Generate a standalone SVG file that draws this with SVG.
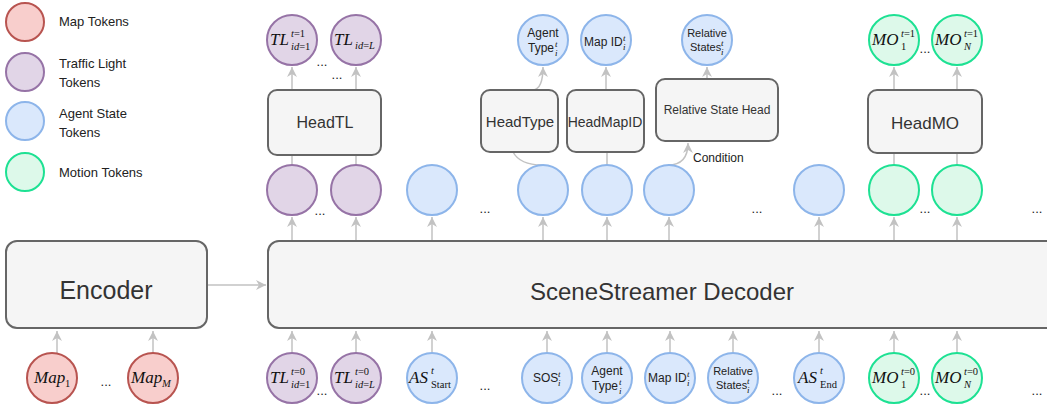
<svg xmlns="http://www.w3.org/2000/svg" width="1047" height="410" viewBox="0 0 1047 410">
<defs>
<marker id="arr" viewBox="0 0 10 10" refX="10" refY="5" markerWidth="10" markerHeight="10" markerUnits="userSpaceOnUse" orient="auto">
<path d="M0,0 L10,5 L0,10 L3,5 Z" fill="#c2c2c2"/>
</marker>
<style>
.map{fill:#f8cecc;stroke:#b85450;stroke-width:2}
.tl{fill:#e1d5e7;stroke:#9673a6;stroke-width:2}
.as{fill:#dae8fc;stroke:#8db5ea;stroke-width:2}
.mo{fill:#ddf9ea;stroke:#1de193;stroke-width:2}
.box{fill:#f5f5f5;stroke:#666;stroke-width:2}
.c{stroke:#c2c2c2;stroke-width:1.5;fill:none}
.ca{stroke:#c2c2c2;stroke-width:1.5;fill:none;marker-end:url(#arr)}
.sans{font-family:"Liberation Sans",Arial,sans-serif;fill:#222}
.lg{font-size:13px}
.bt{font-family:"Liberation Sans",Arial,sans-serif;fill:#333;text-anchor:middle}
.dots{font-family:"Liberation Sans",Arial,sans-serif;font-size:13px;fill:#222;text-anchor:middle}
.m{font-family:"Liberation Serif","Times New Roman",serif;font-style:italic;font-size:17px;fill:#111}
.s{font-family:"Liberation Serif","Times New Roman",serif;font-size:10.5px;fill:#111}
.i{font-style:italic}
.st{font-family:"Liberation Serif","Times New Roman",serif;font-style:italic;font-size:9px;fill:#111}
.ct{font-family:"Liberation Sans",Arial,sans-serif;font-size:12px;fill:#222}
.ct2{font-family:"Liberation Sans",Arial,sans-serif;font-size:11px;fill:#222}
</style>
</defs>
<rect width="1047" height="410" fill="#fff"/>

<g id="legend">
<circle class="map" cx="25" cy="22" r="19"/>
<text class="sans lg" x="59" y="26">Map Tokens</text>
<circle class="tl" cx="25" cy="72" r="19"/>
<text class="sans lg" x="59" y="68">Traffic Light</text>
<text class="sans lg" x="59" y="87">Tokens</text>
<circle class="as" cx="25" cy="121" r="19"/>
<text class="sans lg" x="59" y="118">Agent State</text>
<text class="sans lg" x="59" y="137">Tokens</text>
<circle class="mo" cx="25" cy="172" r="19"/>
<text class="sans lg" x="59" y="177">Motion Tokens</text>
</g>

<g id="connectors">
<line class="ca" x1="207" y1="285" x2="266" y2="285"/>
<line class="ca" x1="57" y1="353" x2="57" y2="331"/>
<line class="ca" x1="153" y1="353" x2="153" y2="331"/>
<line class="ca" x1="292" y1="353" x2="292" y2="331"/>
<line class="ca" x1="356" y1="353" x2="356" y2="331"/>
<line class="ca" x1="432" y1="353" x2="432" y2="331"/>
<line class="ca" x1="547" y1="353" x2="547" y2="331"/>
<line class="ca" x1="607" y1="353" x2="607" y2="331"/>
<line class="ca" x1="670" y1="353" x2="670" y2="331"/>
<line class="ca" x1="733" y1="353" x2="733" y2="331"/>
<line class="ca" x1="819" y1="353" x2="819" y2="331"/>
<line class="ca" x1="894" y1="353" x2="894" y2="331"/>
<line class="ca" x1="957" y1="353" x2="957" y2="331"/>
<line class="ca" x1="292" y1="241" x2="292" y2="217"/>
<line class="ca" x1="356" y1="241" x2="356" y2="217"/>
<line class="ca" x1="432" y1="241" x2="432" y2="217"/>
<line class="ca" x1="543" y1="241" x2="543" y2="217"/>
<line class="ca" x1="607" y1="241" x2="607" y2="217"/>
<line class="ca" x1="669" y1="241" x2="669" y2="217"/>
<line class="ca" x1="819" y1="241" x2="819" y2="217"/>
<line class="ca" x1="894" y1="241" x2="894" y2="217"/>
<line class="ca" x1="957" y1="241" x2="957" y2="217"/>
<line class="c" x1="292" y1="165" x2="292" y2="155"/>
<line class="c" x1="356" y1="165" x2="356" y2="155"/>
<line class="c" x1="607" y1="165" x2="607" y2="152"/>
<line class="c" x1="894" y1="165" x2="894" y2="153"/>
<line class="c" x1="957" y1="165" x2="957" y2="153"/>
<path class="c" d="M513,152 Q520,165 542,165"/>
<path class="ca" d="M668,165 Q688,165 688,143"/>
<line class="ca" x1="292" y1="90" x2="292" y2="67"/>
<line class="ca" x1="356" y1="90" x2="356" y2="67"/>
<path class="ca" d="M533,90 Q543,89 543,67"/>
<line class="ca" x1="606" y1="90" x2="606" y2="67"/>
<line class="ca" x1="707" y1="79" x2="707" y2="67"/>
<line class="ca" x1="894" y1="90" x2="894" y2="67"/>
<line class="ca" x1="957" y1="90" x2="957" y2="67"/>
<text class="ct" x="693" y="162">Condition</text>
</g>

<g id="encoder">
<rect class="box" x="6" y="241" width="201" height="87" rx="11"/>
<text class="bt" x="106" y="299" font-size="25">Encoder</text>
</g>
<g id="decoder">
<rect class="box" x="268" y="241" width="790" height="87" rx="11"/>
<text class="bt" x="662" y="300" font-size="24">SceneStreamer Decoder</text>
</g>

<g id="map-inputs">
<circle class="map" cx="52" cy="378" r="25"/>
<text class="m" x="34" y="383" font-size="15">Map</text><text class="s" x="65" y="387" font-size="10">1</text>
<text class="dots" x="106" y="386">...</text>
<circle class="map" cx="153" cy="378" r="25"/>
<text class="m" x="131" y="383" font-size="15">Map</text><text class="s i" x="162" y="387" font-size="10">M</text>
</g>

<g id="decoder-inputs">
<circle class="tl" cx="292" cy="378" r="25"/>
<text class="m" x="270" y="383">TL</text>
<text class="s" x="291" y="375"><tspan class="i">t</tspan>=0</text>
<text class="s" x="291" y="388"><tspan class="i">id</tspan>=1</text>
<text class="dots" x="322" y="395">...</text>
<circle class="tl" cx="356" cy="378" r="25"/>
<text class="m" x="334" y="383">TL</text>
<text class="s" x="355" y="375"><tspan class="i">t</tspan>=0</text>
<text class="s" x="355" y="388"><tspan class="i">id</tspan>=<tspan class="i">L</tspan></text>
<circle class="as" cx="432" cy="378" r="25"/>
<text class="m" x="409" y="383" font-size="18">AS</text>
<text class="s i" x="431" y="374">t</text>
<text class="s" x="431" y="388" font-size="10.5">Start</text>
<text class="dots" x="485" y="390">...</text>
<circle class="as" cx="547" cy="378" r="25"/>
<text class="ct" x="533" y="382">SOS</text><text class="st" x="558" y="377">t</text><text class="st" x="558" y="386">i</text>
<circle class="as" cx="607" cy="378" r="25"/>
<text class="ct" x="607" y="375" text-anchor="middle">Agent</text>
<text class="ct" x="592" y="390">Type</text><text class="st" x="619" y="385">t</text><text class="st" x="619" y="394">i</text>
<circle class="as" cx="670" cy="378" r="25"/>
<text class="ct" x="648" y="382">Map ID</text><text class="st" x="687" y="377">t</text><text class="st" x="687" y="386">i</text>
<circle class="as" cx="733" cy="378" r="25"/>
<text class="ct2" x="733" y="375" text-anchor="middle" font-size="10.5">Relative</text>
<text class="ct2" x="716" y="389" font-size="10.5">States</text><text class="st" x="747" y="384">t</text><text class="st" x="747" y="393">i</text>
<text class="dots" x="777" y="395">...</text>
<circle class="as" cx="819" cy="378" r="25"/>
<text class="m" x="798" y="383" font-size="18">AS</text>
<text class="s i" x="820" y="374">t</text>
<text class="s" x="820" y="388">End</text>
<circle class="mo" cx="894" cy="378" r="25"/>
<text class="m" x="872" y="383">MO</text>
<text class="s" x="901" y="375"><tspan class="i">t</tspan>=0</text>
<text class="s" x="901" y="388">1</text>
<text class="dots" x="925" y="395">...</text>
<circle class="mo" cx="957" cy="378" r="25"/>
<text class="m" x="935" y="383">MO</text>
<text class="s" x="964" y="375"><tspan class="i">t</tspan>=0</text>
<text class="s i" x="964" y="388">N</text>
<text class="dots" x="1037" y="395">...</text>
</g>

<g id="decoder-outputs">
<circle class="tl" cx="292" cy="190" r="25"/>
<text class="dots" x="320" y="215">...</text>
<circle class="tl" cx="356" cy="190" r="25"/>
<circle class="as" cx="432" cy="190" r="25"/>
<text class="dots" x="485" y="213">...</text>
<circle class="as" cx="543" cy="190" r="25"/>
<circle class="as" cx="607" cy="190" r="25"/>
<circle class="as" cx="669" cy="190" r="25"/>
<text class="dots" x="757" y="213">...</text>
<circle class="as" cx="819" cy="190" r="25"/>
<circle class="mo" cx="894" cy="190" r="25"/>
<text class="dots" x="925" y="213">...</text>
<circle class="mo" cx="957" cy="190" r="25"/>
<text class="dots" x="1037" y="213">...</text>
</g>

<g id="head-tl">
<rect class="box" x="268" y="90" width="113" height="65" rx="9"/>
<text class="bt" x="325" y="128" font-size="16">HeadTL</text>
</g>
<g id="head-type">
<rect class="box" x="481" y="90" width="77" height="62" rx="9"/>
<text class="bt" x="520" y="127" font-size="15">HeadType</text>
</g>
<g id="head-mapid">
<rect class="box" x="567" y="90" width="77" height="62" rx="9"/>
<text class="bt" x="605" y="127" font-size="14">HeadMapID</text>
</g>
<g id="head-relative">
<rect class="box" x="656" y="79" width="122" height="62" rx="9"/>
<text class="bt" x="717" y="114" font-size="12">Relative State Head</text>
</g>
<g id="head-mo">
<rect class="box" x="868" y="90" width="114" height="63" rx="9"/>
<text class="bt" x="925" y="129" font-size="17">HeadMO</text>
</g>

<g id="outputs-top">
<circle class="tl" cx="292" cy="40" r="25"/>
<text class="m" x="270" y="45">TL</text>
<text class="s" x="291" y="37"><tspan class="i">t</tspan>=1</text>
<text class="s" x="291" y="50"><tspan class="i">id</tspan>=1</text>
<text class="dots" x="322" y="66">...</text>
<circle class="tl" cx="356" cy="40" r="25"/>
<text class="m" x="334" y="45">TL</text>
<text class="s" x="355" y="49"><tspan class="i">id</tspan>=<tspan class="i">L</tspan></text>
<text class="dots" x="337" y="79">...</text>
<circle class="as" cx="543" cy="40" r="25"/>
<text class="ct" x="543" y="37" text-anchor="middle">Agent</text>
<text class="ct" x="528" y="52">Type</text><text class="st" x="555" y="47">t</text><text class="st" x="555" y="56">i</text>
<circle class="as" cx="606" cy="40" r="25"/>
<text class="ct" x="584" y="46">Map ID</text><text class="st" x="623" y="41">t</text><text class="st" x="623" y="50">i</text>
<circle class="as" cx="707" cy="40" r="25"/>
<text class="ct2" x="707" y="37" text-anchor="middle" font-size="10.5">Relative</text>
<text class="ct2" x="690" y="51" font-size="10.5">States</text><text class="st" x="721" y="46">t</text><text class="st" x="721" y="55">i</text>
<circle class="mo" cx="894" cy="40" r="25"/>
<text class="m" x="872" y="45">MO</text>
<text class="s" x="901" y="37"><tspan class="i">t</tspan>=1</text>
<text class="s" x="901" y="50">1</text>
<text class="dots" x="925" y="53">...</text>
<circle class="mo" cx="957" cy="40" r="25"/>
<text class="m" x="935" y="45">MO</text>
<text class="s" x="964" y="37"><tspan class="i">t</tspan>=1</text>
<text class="s i" x="964" y="50">N</text>
</g>
</svg>
